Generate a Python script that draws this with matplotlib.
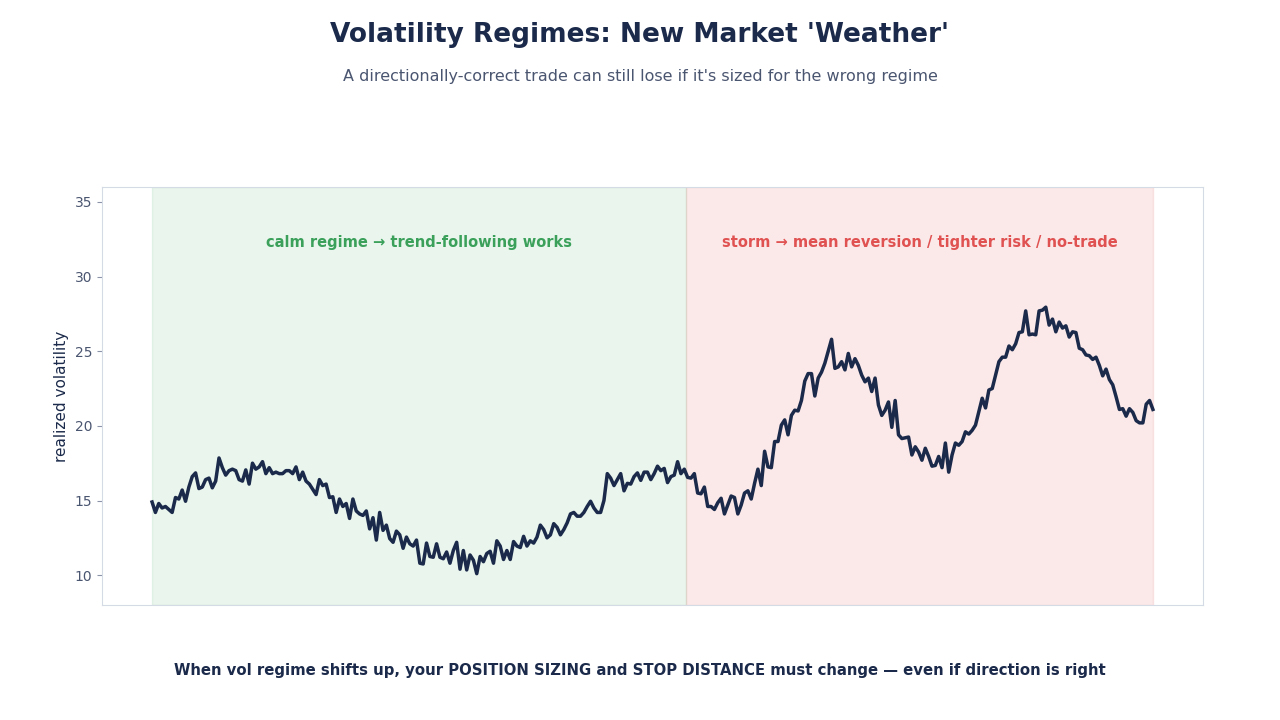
import numpy as np
import matplotlib
matplotlib.use("Agg")
import matplotlib.pyplot as plt

# datos de volatilidad realizada
calma = [14.9, 14.2, 14.8, 14.5, 14.6, 14.4, 14.2, 15.2, 15.1, 15.7,
         14.95, 15.9, 16.6, 16.85, 15.8, 15.9, 16.4, 16.5, 15.85, 16.3,
         17.85, 17.2, 16.7, 17.0, 17.1, 17.0, 16.4, 16.3, 17.05, 16.1,
         17.5, 17.1, 17.25, 17.6, 16.8, 17.2, 16.8, 16.9, 16.8, 16.8,
         17.0, 17.0, 16.8, 17.25, 16.4, 16.9, 16.3, 16.1, 15.75, 15.4,
         16.4, 16.0, 16.1, 15.2, 15.25, 14.2, 15.1, 14.6, 14.8, 13.8,
         15.1, 14.3, 14.1, 14.0, 14.3, 13.1, 13.85, 12.35, 14.2, 13.0,
         13.35, 12.45, 12.2, 12.95, 12.7, 11.8, 12.55, 12.1, 11.95, 12.35,
         10.8, 10.75, 12.15, 11.25, 11.2, 12.1, 11.2, 11.1, 11.55, 10.8,
         11.65, 12.2, 10.4, 11.65, 10.35, 11.35, 11.0, 10.1, 11.25, 10.9,
         11.45, 11.6, 10.8, 12.3, 11.95, 11.05, 11.65, 11.05, 12.25, 11.95,
         11.85, 12.6, 11.95, 12.3, 12.15, 12.55, 13.35, 13.05, 12.5, 12.7,
         13.45, 13.2, 12.7, 13.05, 13.5, 14.1, 14.2, 13.95, 13.95, 14.2,
         14.6, 14.95, 14.5, 14.2, 14.2, 15.0, 16.8, 16.5, 16.0, 16.4,
         16.8, 15.65, 16.15, 16.1, 16.6, 16.85, 16.35, 16.9, 16.9, 16.4,
         16.8, 17.3, 17.0, 17.15, 16.2, 16.6, 16.7, 17.6, 16.8, 17.1]

tormenta = [16.55, 16.5, 16.8, 15.5, 15.45, 15.9, 14.6, 14.6, 14.4, 14.85,
            15.15, 14.1, 14.7, 15.3, 15.2, 14.1, 14.7, 15.5, 15.65, 15.1,
            16.15, 17.1, 16.0, 18.3, 17.25, 17.2, 18.95, 18.95, 20.05, 20.4,
            19.4, 20.7, 21.05, 21.0, 21.7, 23.0, 23.5, 23.5, 22.0, 23.2,
            23.6, 24.2, 25.0, 25.8, 23.85, 23.95, 24.3, 23.75, 24.85, 23.95,
            24.5, 24.05, 23.4, 22.95, 23.2, 22.3, 23.2, 21.4, 20.7, 21.05,
            21.6, 19.9, 21.7, 19.4, 19.15, 19.2, 19.25, 18.05, 18.6, 18.25,
            17.7, 18.5, 17.95, 17.3, 17.35, 17.95, 17.2, 18.85, 16.9, 18.05,
            18.85, 18.7, 18.95, 19.6, 19.45, 19.7, 20.05, 20.95, 21.85, 21.2,
            22.4, 22.5, 23.4, 24.3, 24.6, 24.6, 25.35, 25.1, 25.5, 26.25,
            26.3, 27.7, 26.1, 26.15, 26.1, 27.7, 27.75, 27.95, 26.75, 27.15,
            26.3, 26.95, 26.55, 26.7, 25.95, 26.3, 26.25, 25.2, 25.1, 24.75,
            24.7, 24.45, 24.6, 24.05, 23.35, 23.8, 23.1, 22.75, 21.95, 21.1,
            21.15, 20.65, 21.15, 20.9, 20.35, 20.2, 20.2, 21.45, 21.7, 21.1]

vol = np.array(calma + tormenta)
dias = np.arange(len(vol))
corte = len(calma) - 0.5  # donde cambia el regimen

textoCalma = "calm regime \u2192 trend-following works"
textoTormenta = "storm \u2192 mean reversion / tighter risk / no-trade"

azul = "#1b2a4a"
fig = plt.figure(figsize=(12.8, 7.2), dpi=100)
ax = fig.add_axes([0.0797, 0.1597, 0.8601, 0.5806])

# fondos de cada regimen
ax.axvspan(0, corte, color="#2e9e4f", alpha=0.1)
ax.axvspan(corte, dias[-1], color="#e05252", alpha=0.12)

ax.plot(dias, vol, color=azul, lw=2.5)

ax.set_ylim(8, 36)
ax.set_xlim(-0.05 * dias[-1], 1.05 * dias[-1])
ax.set_xticks([])
ax.set_yticks([10, 15, 20, 25, 30, 35])
ax.tick_params(axis="y", colors="#8a93a8", labelcolor="#4a5570", labelsize=10)
for s in ax.spines.values():
    s.set_color("#d5dbe5")
ax.set_ylabel("realized volatility", fontsize=11, color=azul)

# etiquetas de cada regimen
trans = ax.get_xaxis_transform()
ax.text(corte / 2, 0.868, textoCalma, transform=trans, ha="center", va="center",
        fontsize=10.5, fontweight="bold", color="#3aa05a")
ax.text((corte + dias[-1]) / 2, 0.868, textoTormenta, transform=trans, ha="center",
        va="center", fontsize=10.5, fontweight="bold", color="#e05252")

# titulos
fig.text(0.5, 0.951, "Volatility Regimes: New Market 'Weather'", ha="center", va="center",
         fontsize=19, fontweight="bold", color=azul)
fig.text(0.5, 0.894, "A directionally-correct trade can still lose if it's sized for the wrong regime",
         ha="center", va="center", fontsize=11.5, color="#4a5570")
fig.text(0.5, 0.069, "When vol regime shifts up, your POSITION SIZING and STOP DISTANCE must change \u2014 even if direction is right",
         ha="center", va="center", fontsize=10.7, fontweight="bold", color=azul)

fig.savefig("out.png", dpi=100)
